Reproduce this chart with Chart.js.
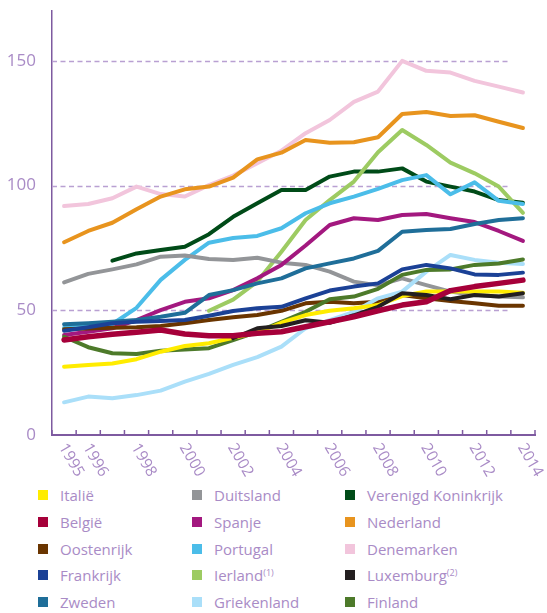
<!DOCTYPE html>
<html>
<head>
<meta charset="utf-8">
<script src="https://cdn.jsdelivr.net/npm/chart.js@4/dist/chart.umd.min.js"></script>
<style>
  body { margin: 0; background: #fff; }
  #wrap { position: relative; width: 547px; height: 613px; }
  #legend { position: absolute; left: 0; top: 485px; width: 547px;
            font-family: "Open Sans", sans-serif; font-size: 15px; color: #a98bc6; }
  .item { position: absolute; height: 20px; line-height: 20px; white-space: nowrap; }
  .box { position: absolute; left: 0; top: 5px; width: 10px; height: 10px; }
  .lbl { position: absolute; left: 22px; top: 0; }
  .lbl sup { font-size: 9px; vertical-align: 5px; line-height: 0; }
</style>
</head>
<body>
<div id="wrap">
  <canvas id="chart" width="547" height="485"></canvas>
  <div id="legend"></div>
</div>
<script>
const years = ['1995','1996','1997','1998','1999','2000','2001','2002','2003','2004',
               '2005','2006','2007','2008','2009','2010','2011','2012','2013','2014'];
const shownYears = ['1995','1996','1998','2000','2002','2004','2006','2008','2010','2012','2014'];
const yTicks = [0, 50, 100, 150];

const italie      = [27.4, 28.1, 28.7, 30.4, 33.4, 35.7, 36.8, 39, 41, 45, 48.1, 49.8, 50.8, 52.1, 55.7, 57.5, 57.5, 57.5, 57.5, 57];
const belgie      = [38.1, 39.4, 40.4, 41.2, 42.1, 40.5, 39.8, 39.8, 40.8, 41.4, 43.4, 45.4, 47.4, 49.8, 52.1, 53.4, 57.9, 59.5, 60.8, 62.1];
const oostenrijk  = [42.4, 42.7, 43, 43.2, 43.7, 44.8, 46.1, 47.2, 48.1, 49.8, 52.8, 53.4, 52.8, 53.4, 56.1, 54.8, 53.7, 52.8, 51.8, 51.8];
const frankrijk   = [41.8, 43.2, 44.8, 45.4, 45.7, 46.1, 47.8, 49.7, 50.8, 51.4, 54.8, 57.9, 59.5, 60.8, 66.4, 68.2, 66.8, 64.4, 64.2, 65.1];
const zweden      = [44.4, 44.8, 45.4, 46.1, 47.4, 49, 56.1, 58.1, 60.8, 62.8, 66.8, 68.8, 70.8, 73.8, 81.5, 82.2, 82.6, 84.6, 86.2, 86.9];
const duitsland   = [61.2, 64.6, 66.4, 68.4, 71.5, 72, 70.6, 70.2, 71.1, 69.1, 68.2, 65.5, 61.5, 60, 62.8, 60.1, 57.5, 56.1, 55.5, 55.2];
const spanje      = [40.1, 41.4, 42.8, 46.1, 50.1, 53.4, 54.8, 58.1, 62.8, 68.2, 76, 84.2, 86.9, 86.2, 88.2, 88.6, 86.9, 85.4, 81.8, 77.8];
const portugal    = [43, 44, 44.5, 51, 62.2, 70.2, 77.1, 79, 79.8, 82.9, 88.9, 92.9, 95.6, 98.7, 102.2, 104.2, 96.5, 101.3, 93.9, 92.6];
const ierland     = [null, null, null, null, null, null, 49.8, 54.3, 61.5, 73.5, 86.2, 94.2, 101.6, 113.4, 122.3, 116.3, 109.2, 104.9, 99.6, 89.1];
const griekenland = [13.1, 15.4, 14.7, 16, 17.8, 21.4, 24.5, 28.1, 31.2, 35.4, 42.8, 46.1, 49.4, 54.8, 57.5, 65.5, 72.2, 70.2, 69.1, 68.6];
const vk          = [null, null, 69.9, 72.8, 74.2, 75.5, 80.5, 87.5, 92.9, 98.2, 98.2, 103.6, 105.6, 105.6, 106.9, 101.6, 99.6, 97.6, 94.2, 93.1];
const nederland   = [77.3, 81.8, 85.1, 90.5, 95.6, 98.5, 99.6, 103.2, 110.5, 113.2, 118.3, 117.2, 117.4, 119.4, 128.7, 129.5, 127.9, 128.2, 125.6, 123.1];
const denemarken  = [91.8, 92.6, 94.9, 99.6, 96.6, 95.6, 100.2, 104, 109, 114, 121, 126.3, 133.6, 137.7, 150, 146, 145.3, 142, 139.7, 137.3];
const luxemburg   = [null, null, null, null, null, null, null, 38.8, 42.8, 43.7, 46, 45, 48, 51.4, 56.8, 56.1, 54.4, 56.1, 55.5, 56.8];
const finland     = [39.4, 35.2, 32.8, 32.5, 33.8, 34.3, 34.8, 38, 41.4, 45.4, 49.4, 54.4, 55.5, 58.6, 64.2, 66.2, 66.4, 68.2, 68.8, 70.4];

const axisColor = '#7e5aa0';
const textColor = '#a98bc6';
const gridColor = '#b9a0d2';
const fontFamily = '"Open Sans", sans-serif';

// first entry is drawn on top
const series = [
  { label: 'België',             data: belgie,      color: '#a6003a', width: 5.5 },
  { label: 'Luxemburg',          data: luxemburg,   color: '#231f20', sup: '(2)' },
  { label: 'Frankrijk',          data: frankrijk,   color: '#1b4196' },
  { label: 'Italië',             data: italie,      color: '#ffec00' },
  { label: 'Finland',            data: finland,     color: '#4d7a2a' },
  { label: 'Griekenland',        data: griekenland, color: '#aadff9' },
  { label: 'Oostenrijk',         data: oostenrijk,  color: '#6a3500' },
  { label: 'Zweden',             data: zweden,      color: '#1f6e99' },
  { label: 'Spanje',             data: spanje,      color: '#a3187f' },
  { label: 'Duitsland',          data: duitsland,   color: '#939598' },
  { label: 'Portugal',           data: portugal,    color: '#4bbde9' },
  { label: 'Ierland',            data: ierland,     color: '#9dcb62', sup: '(1)' },
  { label: 'Verenigd Koninkrijk', data: vk,         color: '#004b18' },
  { label: 'Nederland',          data: nederland,   color: '#e8941e' },
  { label: 'Denemarken',         data: denemarken,  color: '#f2c5dc' }
];

const legendOrder = [
  ['Italië', 'Duitsland', 'Verenigd Koninkrijk'],
  ['België', 'Spanje', 'Nederland'],
  ['Oostenrijk', 'Portugal', 'Denemarken'],
  ['Frankrijk', 'Ierland', 'Luxemburg'],
  ['Zweden', 'Griekenland', 'Finland']
];

// dashed guides, inward tick marks and slanted year labels
const decor = {
  id: 'decor',
  beforeDatasetsDraw(chart) {
    const { ctx, chartArea, scales } = chart;
    const x = scales.x, y = scales.y;
    const step = x.getPixelForValue(1) - x.getPixelForValue(0);
    const right = x.getPixelForValue(years.length - 2) + step / 2;
    ctx.save();
    ctx.strokeStyle = gridColor;
    ctx.lineWidth = 1.3;
    ctx.setLineDash([5, 3.5]);
    yTicks.forEach(v => {
      if (v === 0) return;
      const py = Math.round(y.getPixelForValue(v)) + 0.5;
      ctx.beginPath();
      ctx.moveTo(chartArea.left, py);
      ctx.lineTo(right, py);
      ctx.stroke();
    });
    ctx.restore();
  },
  afterDraw(chart) {
    const { ctx, chartArea, scales } = chart;
    const x = scales.x;
    const step = x.getPixelForValue(1) - x.getPixelForValue(0);
    ctx.save();
    ctx.strokeStyle = axisColor;
    ctx.lineWidth = 1.5;
    for (let i = 0; i <= years.length; i++) {
      const px = x.getPixelForValue(0) - step / 2 + i * step;
      ctx.beginPath();
      ctx.moveTo(px, chartArea.bottom);
      ctx.lineTo(px, chartArea.bottom - 5);
      ctx.stroke();
    }
    ctx.fillStyle = textColor;
    ctx.font = '15.5px ' + fontFamily;
    ctx.textAlign = 'left';
    ctx.textBaseline = 'top';
    shownYears.forEach(yr => {
      const px = x.getPixelForValue(years.indexOf(yr));
      ctx.save();
      ctx.translate(px + 5, chartArea.bottom + 6);
      ctx.rotate(Math.PI / 3);
      ctx.fillText(yr, 0, 0);
      ctx.restore();
    });
    ctx.restore();
  }
};

new Chart(document.getElementById('chart'), {
  type: 'line',
  data: {
    labels: years,
    datasets: series.map(s => ({
      label: s.label,
      data: s.data,
      borderColor: s.color,
      backgroundColor: s.color,
      borderWidth: s.width || 4,
      borderCapStyle: 'round',
      borderJoinStyle: 'round',
      pointRadius: 0,
      tension: 0,
      fill: false
    }))
  },
  options: {
    responsive: false,
    animation: false,
    devicePixelRatio: 1,
    layout: { padding: { top: 11, right: 12, left: 0, bottom: 0 } },
    plugins: { legend: { display: false }, tooltip: { enabled: false } },
    scales: {
      x: {
        type: 'category',
        offset: true,
        grid: { display: false },
        border: { display: true, color: axisColor, width: 2 },
        ticks: { display: false },
        afterFit: s => { s.height = 50; }
      },
      y: {
        min: 0,
        max: 170,
        afterBuildTicks: s => { s.ticks = yTicks.map(v => ({ value: v })); },
        grid: { display: false },
        border: { display: true, color: axisColor, width: 1.5 },
        ticks: { color: textColor, font: { family: fontFamily, size: 17 }, padding: 8 },
        afterFit: s => { s.width = 52; s.paddingTop = 0; s.paddingBottom = 0; }
      }
    }
  },
  plugins: [decor]
});

// legend in three columns
const legendEl = document.getElementById('legend');
const colX = [38, 192, 345];
legendOrder.forEach((row, r) => {
  row.forEach((name, c) => {
    const s = series.find(d => d.label === name);
    const item = document.createElement('div');
    item.className = 'item';
    item.style.left = colX[c] + 'px';
    item.style.top = (r * 26.8) + 'px';
    item.innerHTML = '<span class="box" style="background:' + s.color + '"></span>' +
      '<span class="lbl">' + s.label + (s.sup ? '<sup>' + s.sup + '</sup>' : '') + '</span>';
    legendEl.appendChild(item);
  });
});
</script>
</body>
</html>
